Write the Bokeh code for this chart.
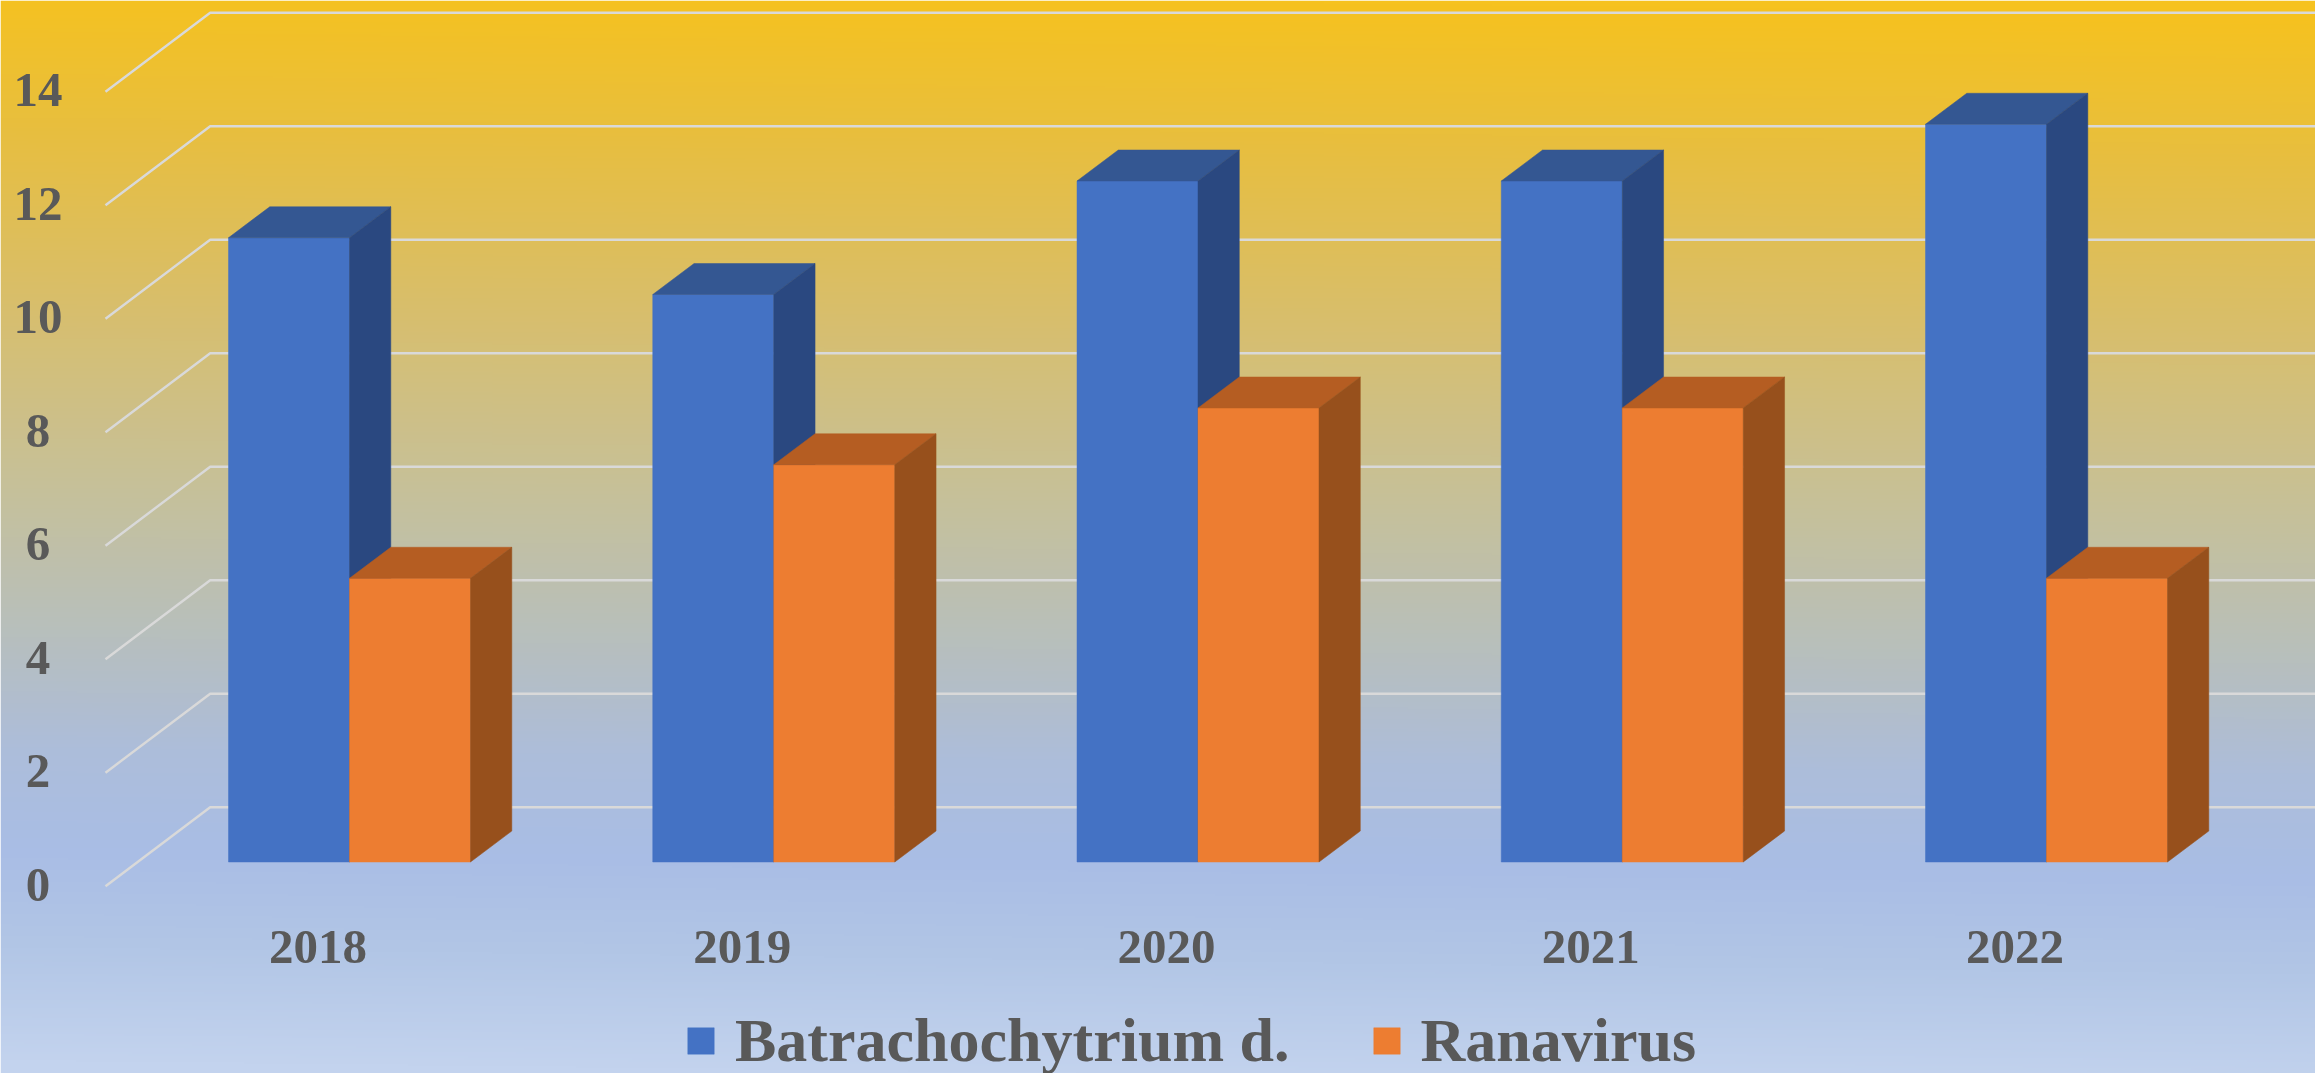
import numpy as np
from bokeh.plotting import figure
from bokeh.models import Legend, LegendItem
from bokeh.core.properties import value
from bokeh.embed import file_html
from bokeh.resources import INLINE

years = ["2018", "2019", "2020", "2021", "2022"]
batrachochytrium = [11, 10, 12, 12, 13]
ranavirus = [5, 7, 8, 8, 5]
y_ticks = [0, 2, 4, 6, 8, 10, 12, 14]
series_names = ["Batrachochytrium d.", "Ranavirus"]

# layout: page pixels per data unit and the 3D projection
W, H = 2315, 1073
PX_X, PX_Y = 424.25, 56.75
CX0, BASE = 349.0, 861.5          # page px of first group centre / value 0
BAR = 121.0 / PX_X
DX, DY = 41.3 / PX_X, 31.0 / PX_Y  # bar depth

x0, x1 = (0 - CX0) / PX_X, (W - CX0) / PX_X
y0, y1 = (BASE - H) / PX_Y, BASE / PX_Y

FONT = value("Liberation Serif")
TXT = "#595959"

p = figure(width=W, height=H, x_range=(x0, x1), y_range=(y0, y1),
           output_backend="svg", toolbar_location=None, min_border=0,
           outline_line_color=None)
p.xaxis.visible = False
p.yaxis.visible = False
p.grid.visible = False

# background gradient
stops_y = [0, 130, 240, 350, 450, 550, 650, 760, 860, 960, 1073]
stops_c = ["#F6C21F", "#E9BF3C", "#DFBE58", "#D5BF75", "#CBC08E", "#C1C0A6",
           "#B7BFBE", "#ADBDDA", "#A9BDE5", "#B2C6E6", "#C3D3EE"]
rgb = np.array([[int(c[i:i + 2], 16) for i in (1, 3, 5)] for c in stops_c], float)
yy, xx = np.mgrid[0:H:2, 0:W:4]
t = yy - 0.012 * (xx - 1157)
img = np.zeros(yy.shape + (4,), dtype=np.uint8)
for k in range(3):
    img[..., k] = np.interp(t, stops_y, rgb[:, k])
img[..., 3] = 255
p.image_rgba(image=[img.view(np.uint32).reshape(yy.shape)[::-1]],
             x=x0, y=y0, dw=x1 - x0, dh=y1 - y0)

# gridlines: floor/wall diagonal then along the back wall
FX = (105 - CX0) / PX_X
BX = (209.7 - CX0) / PX_X
FY = (BASE - 885.7) / PX_Y
BY = (BASE - 806.7) / PX_Y
p.multi_line(xs=[[FX, BX, x1] for _ in y_ticks],
             ys=[[v + FY, v + BY, v + BY] for v in y_ticks],
             line_color="#D9D9D9", line_width=2.4)


def box(lefts, vals, front, side, top):
    rights = [c + BAR for c in lefts]
    r = p.quad(left=lefts, right=rights, bottom=[0] * len(vals), top=vals,
               fill_color=front, line_color=front, line_width=0.5)
    p.patches(xs=[[a, b, b + DX, a + DX] for a, b in zip(lefts, rights)],
              ys=[[v, v, v + DY, v + DY] for v in vals],
              fill_color=top, line_color=top, line_width=0.5)
    p.patches(xs=[[b, b + DX, b + DX, b] for b in rights],
              ys=[[v, v + DY, DY, 0] for v in vals],
              fill_color=side, line_color=side, line_width=0.5)
    return r


idx = np.arange(len(years), dtype=float)
r1 = box(list(idx - BAR), batrachochytrium, "#4472C4", "#2A4880", "#345792")
r2 = box(list(idx), ranavirus, "#ED7D31", "#97501C", "#B55D22")

# value labels
p.text(x=[(37.5 - CX0) / PX_X] * len(y_ticks), y=[v + FY + 1.5 / PX_Y for v in y_ticks],
       text=[str(v) for v in y_ticks], text_font=FONT, text_font_style="bold",
       text_font_size="49px", text_color=TXT, text_align="center", text_baseline="middle")

# category labels
p.text(x=list(idx - 31.5 / PX_X), y=[(BASE - 946) / PX_Y] * len(years), text=years,
       text_font=FONT, text_font_style="bold", text_font_size="49px", text_color=TXT,
       text_align="center", text_baseline="middle")

legend = Legend(items=[LegendItem(label=series_names[0], renderers=[r1]),
                       LegendItem(label=series_names[1], renderers=[r2])],
                orientation="horizontal", location=(684, -3),
                background_fill_alpha=0, border_line_alpha=0, padding=0, margin=0,
                glyph_width=33, glyph_height=33, label_standoff=18, spacing=80,
                label_text_font="Liberation Serif", label_text_font_style="bold",
                label_text_font_size="62px", label_text_color=TXT,
                label_height=50)
p.add_layout(legend, "center")

open("out.html", "w").write(file_html(p, INLINE))
